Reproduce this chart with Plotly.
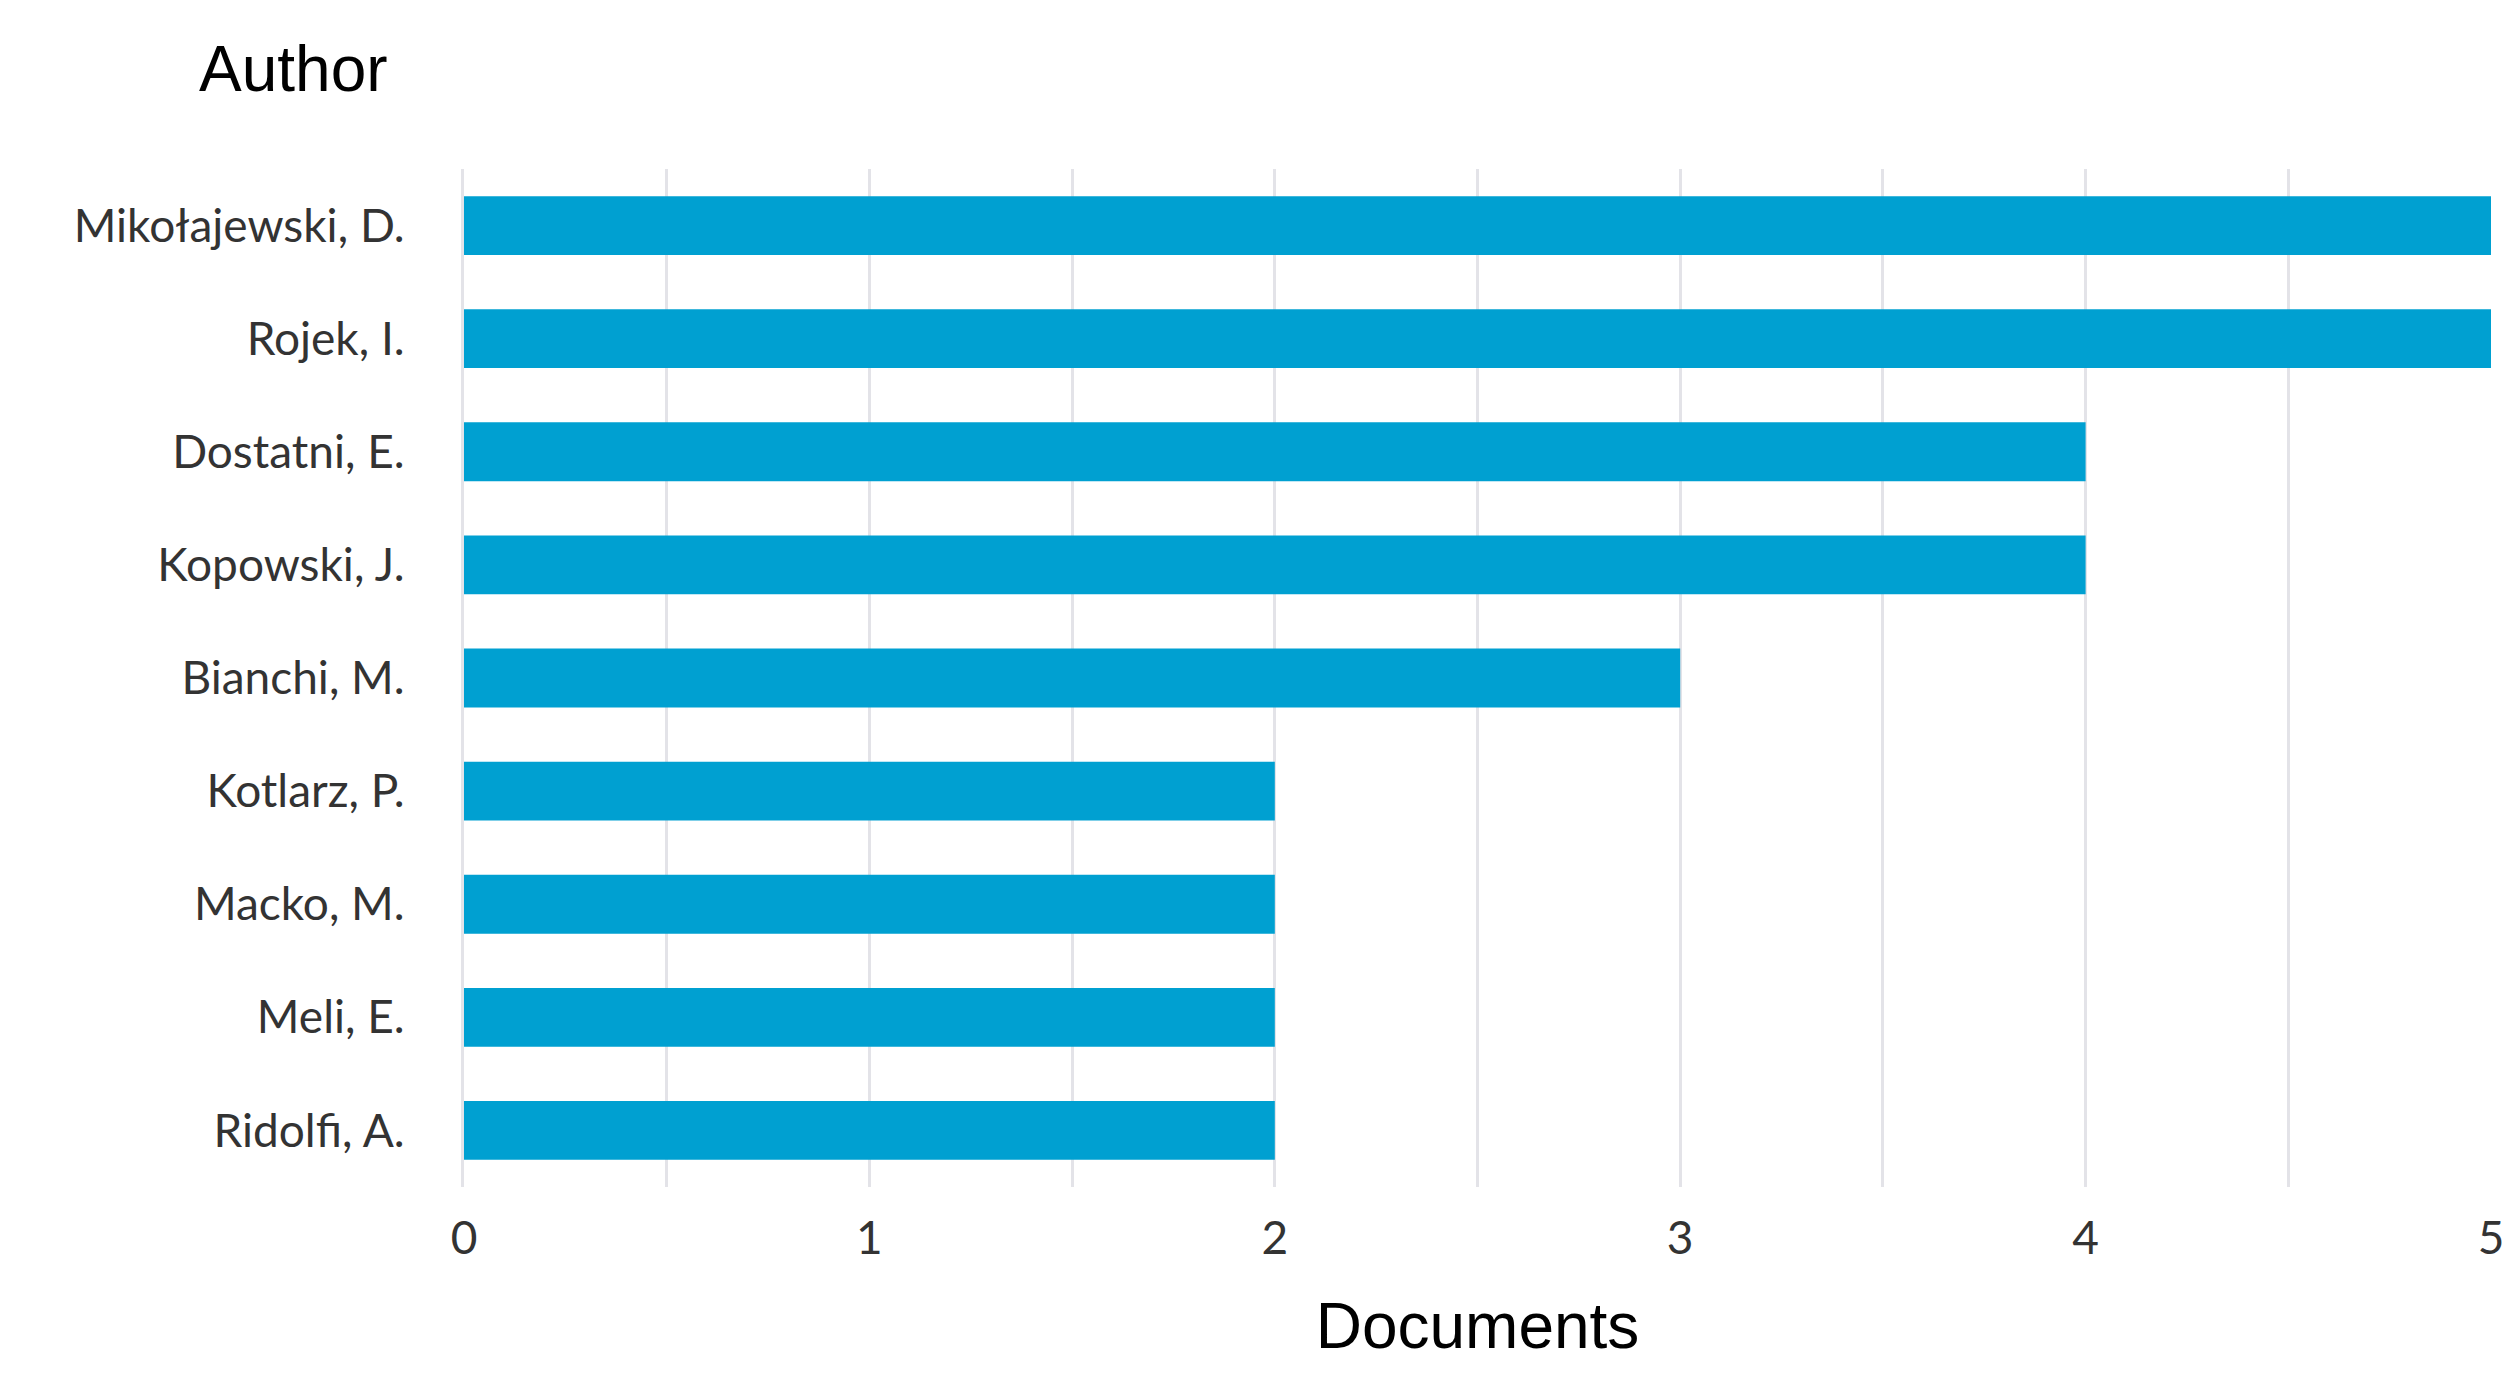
import plotly.graph_objects as go

authors = ["Mikołajewski, D.", "Rojek, I.", "Dostatni, E.", "Kopowski, J.", "Bianchi, M.",
           "Kotlarz, P.", "Macko, M.", "Meli, E.", "Ridolfi, A."]
documents = [5, 5, 4, 4, 3, 2, 2, 2, 2]

fig = go.Figure(go.Bar(x=documents, y=authors, orientation="h",
                       marker=dict(color="#00a0d1", line=dict(width=0)), width=0.52))
fig.update_layout(
    width=2513, height=1394, plot_bgcolor="white", paper_bgcolor="white",
    margin=dict(l=456, r=30, t=161, b=215),
    font=dict(family="Lato", color="#333333", size=46),
    showlegend=False,
    xaxis=dict(range=[0, 5], tickvals=[0, 1, 2, 3, 4, 5],
               showgrid=True, gridcolor="#e3e3e8", gridwidth=3, zeroline=False,
               ticklabelstandoff=20,
               minor=dict(dtick=0.5, showgrid=True, gridcolor="#e3e3e8", gridwidth=3),
               title=dict(text="Documents", font=dict(family="Arial", size=64, color="black"), standoff=40)),
    yaxis=dict(autorange="reversed", showgrid=False, ticksuffix="    ",
               showline=True, linecolor="#e3e3e8", linewidth=3),
    annotations=[dict(text="Author", xref="paper", yref="paper", x=-0.084, y=1.098,
                      xanchor="center", yanchor="middle", showarrow=False,
                      font=dict(family="Arial", size=64, color="black"))],
)
fig.write_html("out.html")
